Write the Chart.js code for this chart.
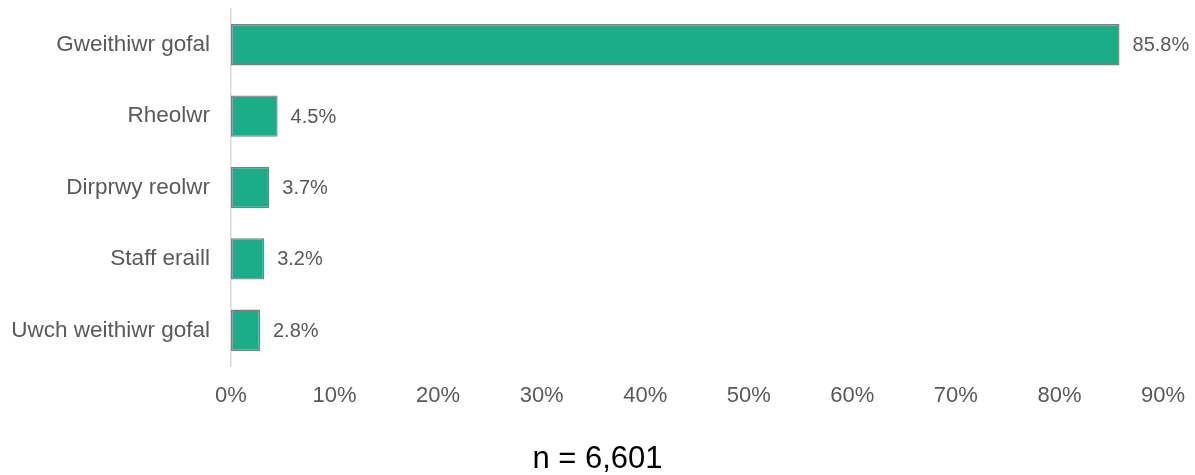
<!DOCTYPE html>
<html>
<head>
<meta charset="utf-8">
<script src="https://cdn.jsdelivr.net/npm/chart.js@4"></script>
<style>
  html, body { margin: 0; padding: 0; background: #ffffff; }
  #wrap { width: 1195px; height: 475px; }
</style>
</head>
<body>
<div id="wrap"><canvas id="c" width="1195" height="475"></canvas></div>
<script>
const categories = ["Gweithiwr gofal", "Rheolwr", "Dirprwy reolwr", "Staff eraill", "Uwch weithiwr gofal"];
const values = [85.8, 4.5, 3.7, 3.2, 2.8];
const xTicks = [0, 10, 20, 30, 40, 50, 60, 70, 80, 90];
const footerText = "n = 6,601";

const FONT = '"Liberation Sans", Arial, sans-serif';

const valueLabels = {
  id: 'valueLabels',
  afterDatasetsDraw(chart) {
    const ctx = chart.ctx;
    const meta = chart.getDatasetMeta(0);
    ctx.save();
    ctx.font = '20px ' + FONT;
    ctx.fillStyle = '#595959';
    ctx.textAlign = 'left';
    ctx.textBaseline = 'middle';
    meta.data.forEach((bar, i) => {
      ctx.fillText(values[i].toFixed(1) + '%', bar.x + 13, bar.y + 1);
    });
    ctx.restore();
  }
};

const footer = {
  id: 'footer',
  afterDraw(chart) {
    const ctx = chart.ctx;
    ctx.save();
    ctx.font = '31px ' + FONT;
    ctx.fillStyle = '#000000';
    ctx.textAlign = 'center';
    ctx.textBaseline = 'alphabetic';
    ctx.fillText(footerText, chart.width / 2, 468);
    ctx.restore();
  }
};

function zeroPad(axis) {
  axis.paddingTop = 0;
  axis.paddingBottom = 0;
  axis.paddingLeft = 0;
  axis.paddingRight = 0;
}

new Chart(document.getElementById('c'), {
  type: 'bar',
  data: {
    labels: categories,
    datasets: [{
      data: values,
      backgroundColor: '#1aad88',
      borderColor: '#7f7f7f',
      borderWidth: 1.4,
      borderSkipped: false,
      barPercentage: 0.58,
      categoryPercentage: 1.0
    }]
  },
  options: {
    indexAxis: 'y',
    responsive: false,
    animation: false,
    layout: { padding: { left: 8, right: 32, top: 9, bottom: 64 } },
    plugins: {
      legend: { display: false },
      tooltip: { enabled: false },
      title: { display: false }
    },
    scales: {
      x: {
        min: 0,
        max: 90,
        afterBuildTicks(axis) { axis.ticks = xTicks.map(v => ({ value: v })); },
        afterFit(axis) { zeroPad(axis); axis.height = 45; },
        grid: { display: false, drawTicks: false },
        border: { display: false },
        ticks: {
          padding: 17,
          color: '#595959',
          font: { family: FONT, size: 22 },
          callback: v => v + '%'
        }
      },
      y: {
        afterFit(axis) { zeroPad(axis); axis.width = 223; },
        grid: { display: false, drawTicks: false },
        border: { display: true, color: '#d9d9d9', width: 1.5 },
        ticks: {
          padding: 21,
          color: '#595959',
          font: { family: FONT, size: 22.5 }
        }
      }
    }
  },
  plugins: [valueLabels, footer]
});
</script>
</body>
</html>
